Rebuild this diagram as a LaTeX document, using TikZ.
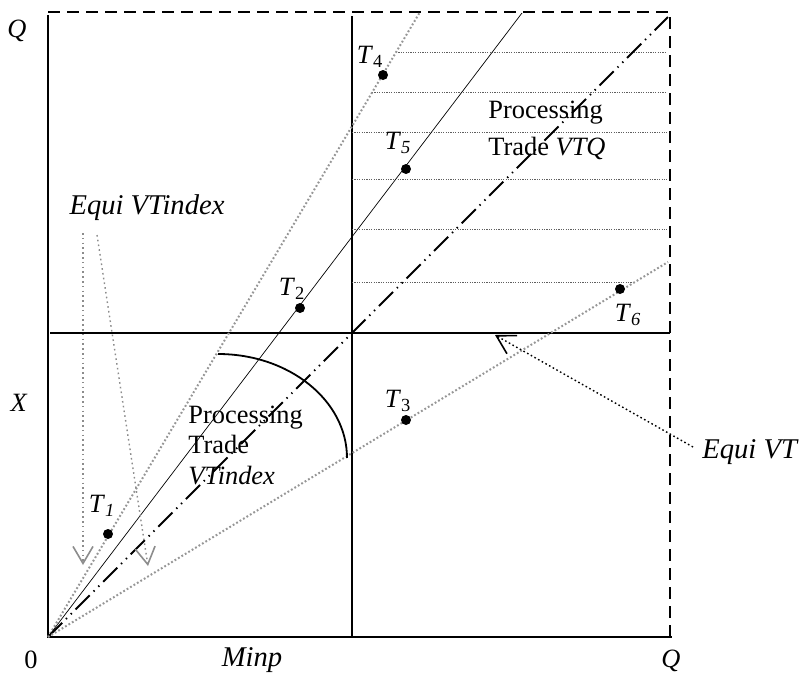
\documentclass[tikz,border=0pt]{standalone}
\usepackage{fontspec}
\setmainfont{Liberation Serif}
\usetikzlibrary{arrows.meta}
\definecolor{cray}{RGB}{150,150,150}
\definecolor{chatch}{RGB}{95,95,95}
\definecolor{cnote}{RGB}{140,140,140}
\newcommand{\tlab}[1]{\textit{T}\textsubscript{#1}}

\begin{document}
\begin{tikzpicture}[
  x=0.5pt, y=-0.5pt,
  font=\fontsize{13.2}{15}\selectfont,
  axis/.style={line width=0.9pt},
  bound/.style={line width=0.9pt, dash pattern=on 6pt off 3.5pt},
  diag/.style={line width=0.9pt,
               dash pattern=on 10pt off 2.7pt on 0.7pt off 2.7pt on 0.7pt off 2.7pt},
  thinray/.style={line width=0.35pt},
  dotray/.style={line width=1pt, color=cray, dash pattern=on 0.9pt off 1.1pt},
  hatch/.style={line width=0.5pt, color=chatch, dash pattern=on 0.6pt off 0.6pt},
  notearr/.style={line width=0.7pt, color=cnote, dash pattern=on 0.8pt off 1.6pt,
                  -{Straight Barb[length=8.5pt,width=10pt,line width=0.8pt]}},
  vtarr/.style={line width=0.7pt, dash pattern=on 0.8pt off 1.3pt,
                -{Straight Barb[length=9pt,width=10.4pt,line width=0.8pt]}},
  pt/.style={circle, fill, inner sep=0pt, minimum size=5pt},
  lab/.style={inner sep=0pt},
  big/.style={inner sep=0pt, font=\fontsize{14.3}{16}\selectfont\itshape}
]
\useasboundingbox (0,0) rectangle (805,681);

% ---------- frame ----------
\coordinate (O)  at (48,637);
\coordinate (tl) at (48,12);
\coordinate (tr) at (670,12);
\coordinate (br) at (670,637);
\coordinate (mt) at (352,16);
\coordinate (mb) at (352,637);
\coordinate (ml) at (50,333);
\coordinate (mr) at (670,333);

\draw[bound] (tl) -- (tr) -- (br);
\draw[axis] (48,15) -- (O) -- (672,637);
\draw[axis] (mt) -- (mb);
\draw[axis] (ml) -- (mr);

% ---------- hatching (processing trade VTQ) ----------
\foreach \y/\xa/\xb in {52/396/667, 92/372/667, 132/352/667,
                        179/352/667, 229/352/667, 282/352/635}
  \draw[hatch] (\xa,\y) -- (\xb,\y);

% ---------- rays from the origin ----------
\coordinate (r4) at (420,12);
\coordinate (r5) at (522,13);
\coordinate (rd) at (668,17);
\coordinate (r6) at (668,262);

\draw[dotray]  (O) -- (r4);
\draw[thinray] (O) -- (r5);
\draw[diag]    (O) -- (rd);
\draw[dotray]  (O) -- (r6);

% arc
\draw[axis] (218,354) arc[start angle=-90, end angle=0, x radius=129, y radius=104];

% ---------- points ----------
\node[pt] (t1) at (108,534) {};
\node[pt] (t2) at (300,308) {};
\node[pt] (t3) at (406,420) {};
\node[pt] (t4) at (383,75)  {};
\node[pt] (t5) at (406,169) {};
\node[pt] (t6) at (620,289) {};

\node[lab] (l1) at (102,506) {\tlab{\textit{1}}};
\node[lab] (l2) at (292,289) {\tlab{2}};
\node[lab] (l3) at (398,401) {\tlab{3}};
\node[lab] (l4) at (370,57)  {\tlab{4}};
\node[lab] (l5) at (398,143) {\tlab{\textit{5}}};
\node[lab] (l6) at (628,315) {\tlab{\textit{6}}};

% ---------- axis labels ----------
\node[lab] (qy)   at (17,31)   {\textit{Q}};
\node[lab] (xl)   at (19,403)  {\textit{X}};
\node[lab] (zero) at (31,660)  {0};
\node[big] (minp) at (252,660) {Minp};
\node[lab] (qx)   at (671,661) {\textit{Q}};

% ---------- region labels ----------
\node[lab, anchor=north west, align=left, font=\fontsize{13.2}{15.25}\selectfont]
  (pvti) at (188,405.5) {Processing\\Trade\\\textit{VTindex}};
\node[lab, anchor=north west, align=left, font=\fontsize{13.2}{18.5}\selectfont]
  (pvtq) at (488,100.5) {Processing\\Trade \textit{VTQ}};

% ---------- notes ----------
\node[big] (eqvti) at (147,208) {Equi VTindex};
\coordinate (a1s) at (83,233);
\coordinate (a1e) at (83,565);
\coordinate (a2s) at (97,235);
\coordinate (a2e) at (148,566);
\draw[notearr] (a1s) -- (a1e);
\draw[notearr] (a2s) -- (a2e);

\node[big, anchor=base west] (eqvt) at (702,458) {Equi VT};
\coordinate (a3s) at (693,447);
\coordinate (a3e) at (495,335);
\draw[vtarr] (a3s) -- (a3e);

\end{tikzpicture}
\end{document}
